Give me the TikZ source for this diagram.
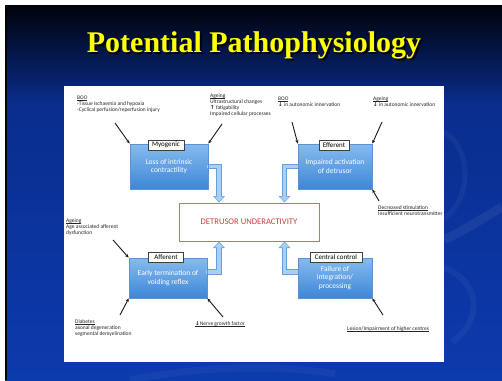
\documentclass[tikz,border=0pt]{standalone}
\usepackage{fontspec}
\setmainfont{Carlito}
\newfontfamily\titlefont{Liberation Serif}
\newfontfamily\symfont{DejaVu Sans}
\usetikzlibrary{arrows.meta,calc}
\newcommand\ulx[1]{\setbox0\hbox{#1}\rlap{\rule[-0.8pt]{\wd0}{0.3pt}}\box0}
\definecolor{slidetop}{HTML}{00020A}
\definecolor{slidemid}{HTML}{0A2D8E}
\definecolor{slidebot}{HTML}{0C3BAE}
\definecolor{boxtop}{HTML}{86BBEF}
\definecolor{boxbot}{HTML}{3E86D7}
\definecolor{boxline}{HTML}{5B93D2}
\definecolor{detline}{HTML}{D4686B}
\definecolor{dettext}{HTML}{C8413F}
\definecolor{bedge}{HTML}{6C9ED3}
\definecolor{bfill}{HTML}{AACFF2}
\definecolor{titleyellow}{HTML}{FFFF00}
\begin{document}
\begin{tikzpicture}[x=1pt,y=-1pt,
  bluebox/.style={draw=boxline, line width=0.4pt, top color=boxtop, bottom color=boxbot,
    text=white, align=center, font=\fontsize{7.5}{8.6}\selectfont, inner sep=0pt},
  tagbox/.style={draw=black!75, line width=0.7pt, fill=white, font=\fontsize{7}{7}\selectfont,
    minimum height=10, inner sep=0pt},
  note/.style={anchor=north west, inner sep=0pt, align=left, text=black!85,
    font=\fontsize{5.5}{5.9}\selectfont},
  noteline/.style={draw=black!90, line width=0.9pt, -{Stealth[length=3.6pt,width=3.2pt]}, shorten >=0.3pt},
  bouter/.style={draw=bedge, line width=5.6pt, line join=miter, -{Triangle[width=11.5pt,length=6.5pt]}},
  binner/.style={draw=bfill, line width=3.8pt, line join=miter, shorten >=1pt, -{Triangle[width=8.8pt,length=4.8pt]}}
]
\useasboundingbox (0,0) rectangle (502,380);
% slide background
\fill[white] (0,0) rectangle (502,380);
\shade[top color=slidetop, bottom color=slidemid] (5,5) rectangle (502,105);
\shade[top color=slidemid, bottom color=slidebot] (5,104.5) rectangle (502,380);
\fill[black] (5,5) rectangle (7,380);
% faint swooshes
\draw[white, opacity=0.045, line width=5pt] (444,132) .. controls (472,148) and (472,200) .. (444,218);
\draw[white, opacity=0.06, line width=9pt] (444,240) .. controls (468,228) and (488,215) .. (502,207);
\draw[white, opacity=0.045, line width=6pt] (444,268) .. controls (482,282) and (482,322) .. (452,342);
\draw[white, opacity=0.04, line width=7pt] (130,380) .. controls (200,366) and (280,364) .. (335,374);
% title
\node[anchor=base, font=\titlefont\bfseries\fontsize{30}{30}\selectfont, text=black, opacity=0.85]
  (titleshadow) at (256,54) {Potential Pathophysiology};
\node[anchor=base, font=\titlefont\bfseries\fontsize{30}{30}\selectfont, text=titleyellow]
  (title) at (254,52) {Potential Pathophysiology};
% white panel
\fill[white] (64,86) rectangle (444,362);

% boxes
\node[bluebox, minimum width=78, minimum height=45] (myo) at (169,166.5) {Loss of intrinsic\\contractility};
\node[bluebox, minimum width=74, minimum height=45] (eff) at (335,166.5) {Impaired activation\\of detrusor};
\node[bluebox, minimum width=78, minimum height=40] (aff) at (168,278) {Early termination of\\voiding reflex};
\node[bluebox, minimum width=74, minimum height=40] (cc) at (335,278) {Failure of\\integration/\\processing};
\node[draw=detline, line width=1pt, fill=white, minimum width=140, minimum height=38, inner sep=0pt,
  text=dettext, font=\fontsize{8.6}{8.6}\selectfont] (det) at (249,222) {DETRUSOR UNDERACTIVITY};

% block arrows
\draw[bouter] (myo.east) -| ($(det.north west)+(40.5,0)$);
\draw[binner] ($(myo.east)+(-1,0)$) -| ($(det.north west)+(40.5,0)$);
\draw[bouter] (eff.west) -| ($(det.north east)+(-35,0)$);
\draw[binner] ($(eff.west)+(1,0)$) -| ($(det.north east)+(-35,0)$);
\draw[bouter] ($(aff.east)+(0,-6)$) -| ($(det.south west)+(40.5,0)$);
\draw[binner] ($(aff.east)+(-1,-6)$) -| ($(det.south west)+(40.5,0)$);
\draw[bouter] ($(cc.west)+(0,-6)$) -| ($(det.south east)+(-35,0)$);
\draw[binner] ($(cc.west)+(1,-6)$) -| ($(det.south east)+(-35,0)$);
% redraw box outlines on top of arrow starts
\draw[boxline, line width=0.4pt] (myo.north east) -- (myo.south east);
\draw[boxline, line width=0.4pt] (eff.north west) -- (eff.south west);
\draw[boxline, line width=0.4pt] (aff.north east) -- (aff.south east);
\draw[boxline, line width=0.4pt] (cc.north west) -- (cc.south west);

% tags
\node[tagbox, minimum width=36] (tmyo) at (166,145) {Myogenic};
\node[tagbox, minimum width=30] (teff) at (334,145) {Efferent};
\node[tagbox, minimum width=35] (taff) at (166,257) {Afferent};
\node[tagbox, minimum width=52] (tcc) at (336,257) {Central control};

% notes
\node[note] (n1) at (77,96) {\ulx{BOO}\\-Tissue ischaemia and hypoxia\\-Cyclical perfusion/reperfusion injury};
\node[note] (n2) at (210,93.5) {\ulx{Ageing}\\Ultrastructural changes\\{\symfont\bfseries ↑} fatigability\\Impaired cellular processes};
\node[note] (n3) at (278,96.5) {\ulx{BOO}\\{\symfont\bfseries ↓} in autonomic innervation};
\node[note] (n4) at (373,96.5) {\ulx{Ageing}\\{\symfont\bfseries ↓} in autonomic innervation};
\node[note] (n5) at (378,205.5) {\ulx{Decreased stimulation}\\Insufficient neurotransmitter};
\node[note] (n6) at (66,219) {\ulx{Ageing}\\Age associated afferent\\dysfunction};
\node[note] (n7) at (75,319.5) {\ulx{Diabetes}\\axonal degeneration\\segmental demyelination};
\node[note] (n8) at (195,321) {\ulx{{\symfont\bfseries ↓}Nerve growth factor}};
\node[note] (n9) at (347,326) {\ulx{Lesion/Impairment of higher centres}};

% annotation arrows
\coordinate (a1) at (115,123);
\coordinate (a2) at (222,124);
\coordinate (a3) at (292,122);
\coordinate (a4) at (382,122);
\coordinate (a5) at (379,201);
\coordinate (a6) at (113,240);
\coordinate (a7) at (120,315);
\coordinate (a8) at (223,317);
\coordinate (a9) at (383,315);
\draw[noteline] (a1) -- (myo.north west);
\draw[noteline] (a2) -- (myo.north east);
\draw[noteline] (a3) -- (eff.north west);
\draw[noteline] (a4) -- (eff.north east);
\draw[noteline] (a5) -- (eff.south east);
\draw[noteline] (a6) -- (aff.north west);
\draw[noteline] (a7) -- (aff.south west);
\draw[noteline] (a8) -- (aff.south east);
\draw[noteline] (a9) -- (cc.south east);
\end{tikzpicture}
\end{document}
